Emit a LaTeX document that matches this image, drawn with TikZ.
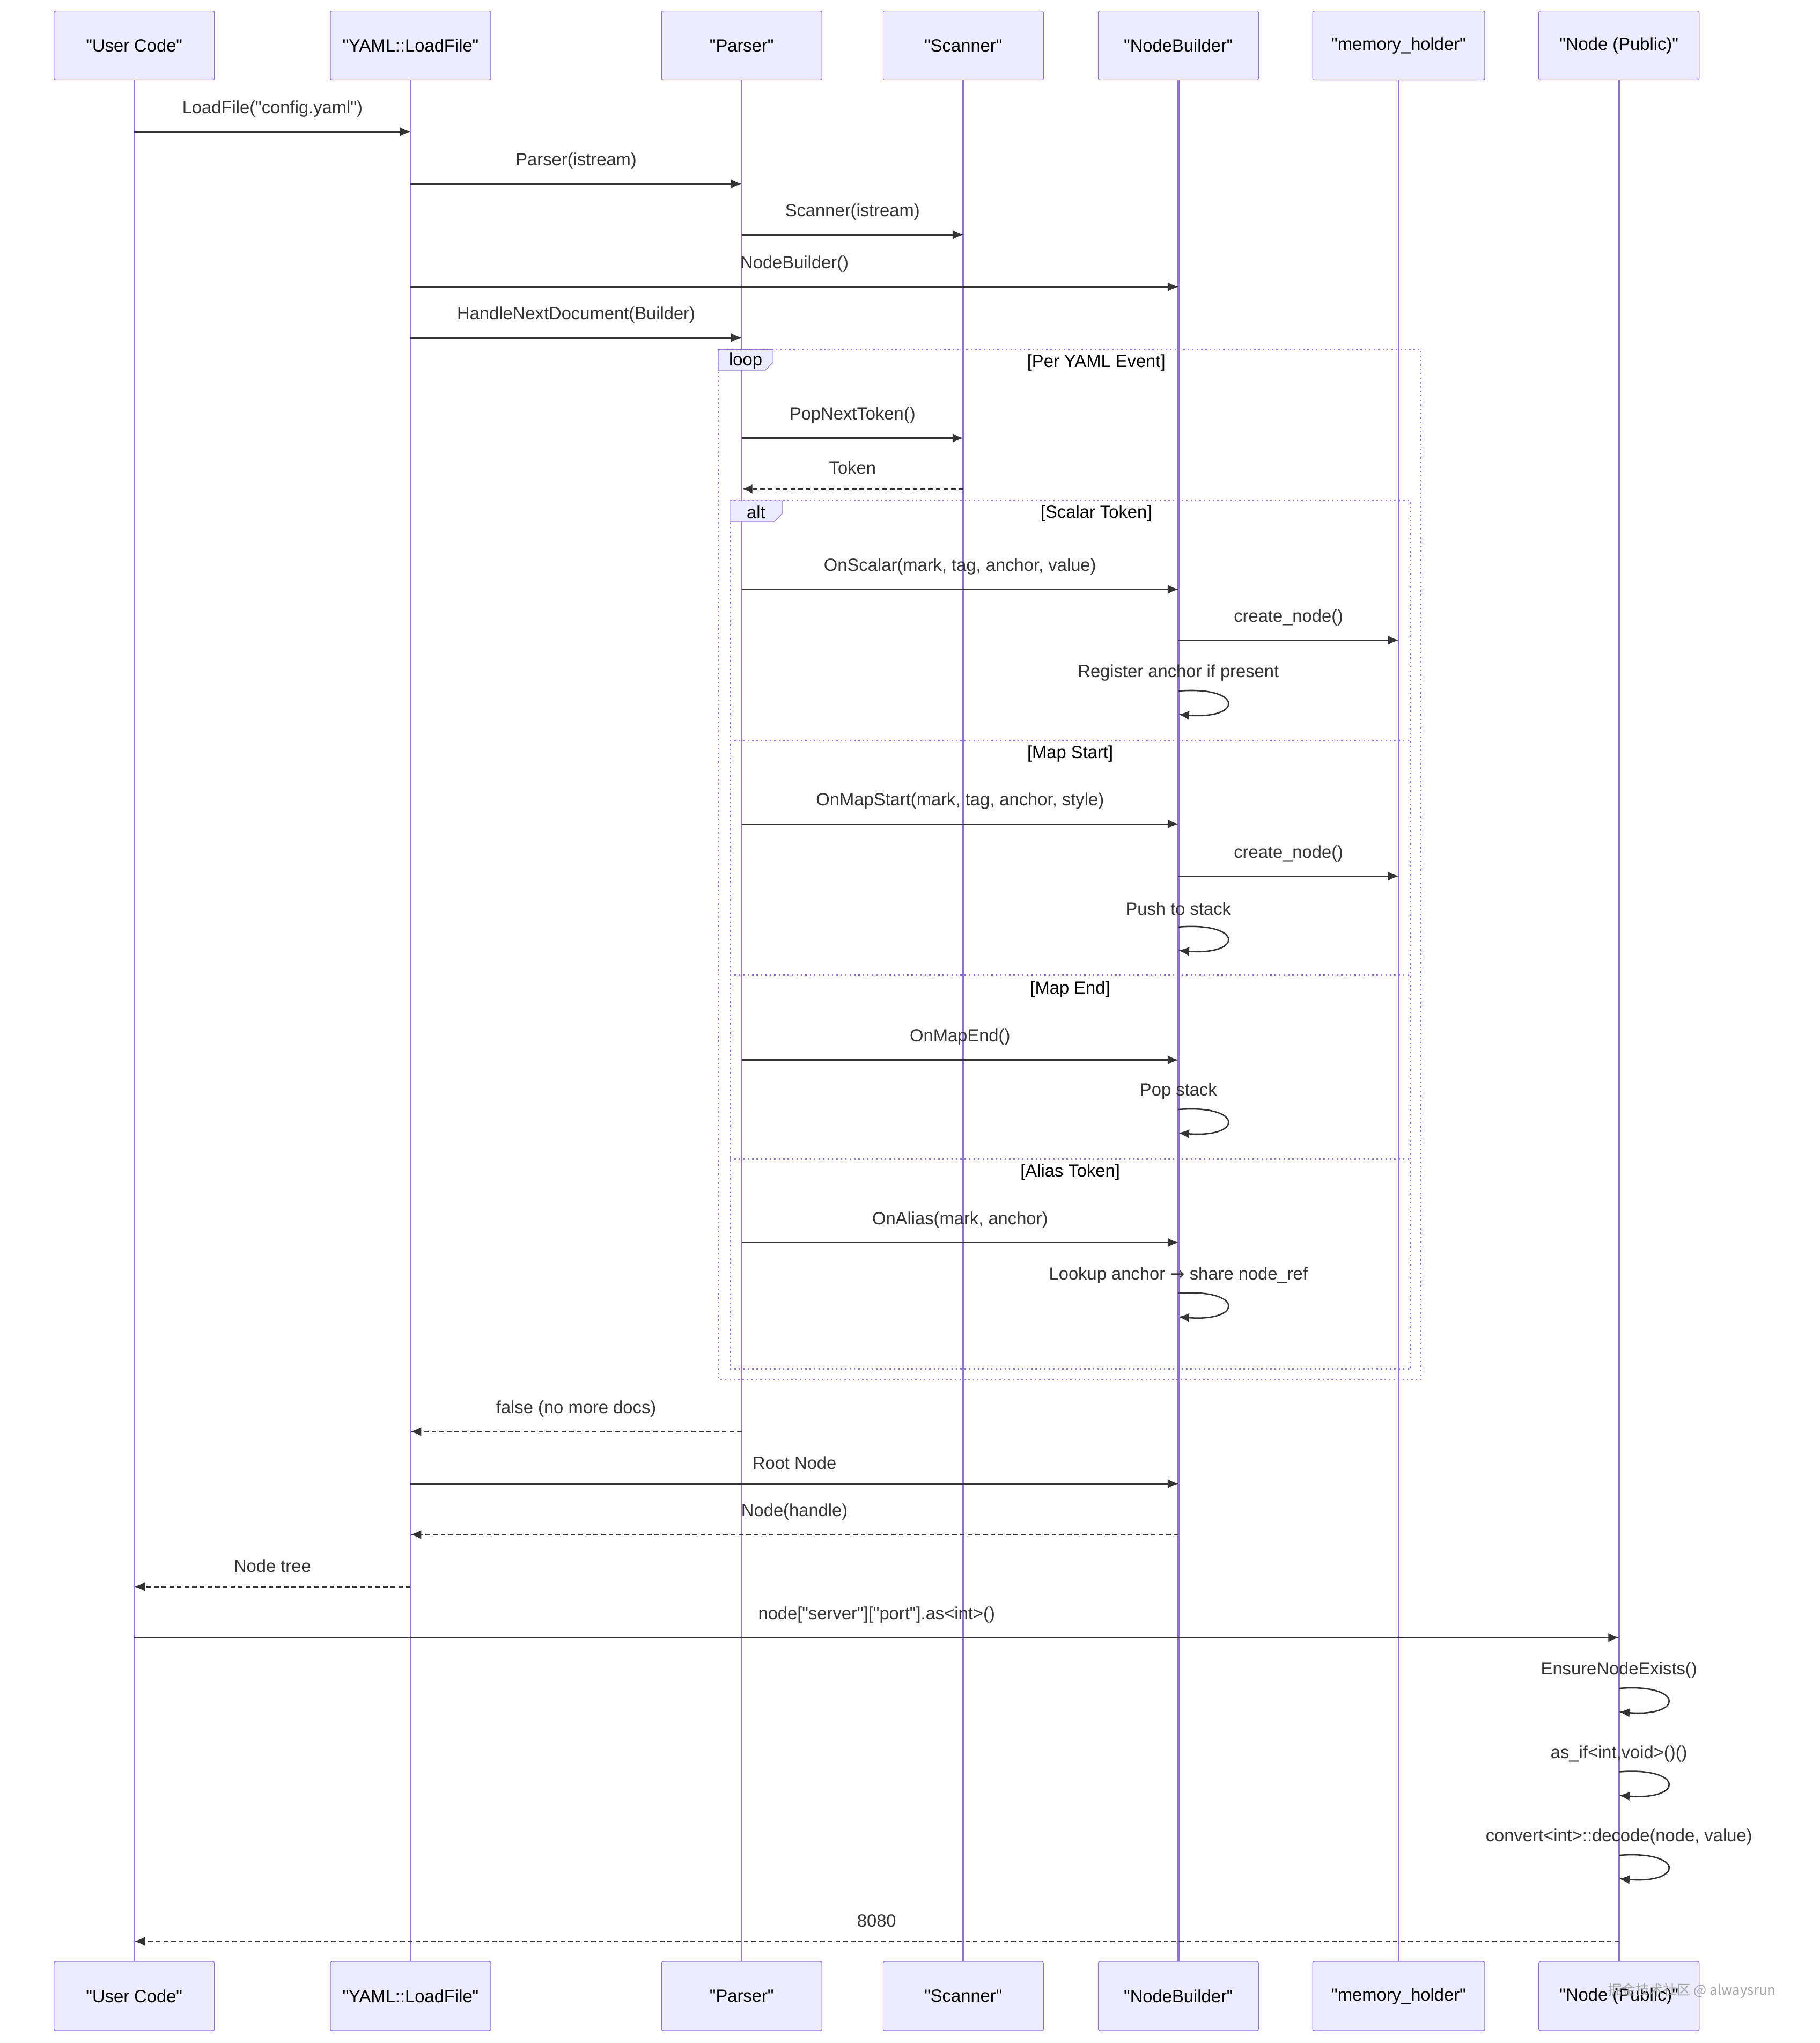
\documentclass[tikz,border=0pt]{standalone}
\usepackage{fontspec}
\setmainfont[Ligatures=TeXOff]{Liberation Sans}
\newfontfamily\cjk{Noto Sans CJK SC}
\usetikzlibrary{arrows.meta, positioning}
\definecolor{actfill}{HTML}{ECECFF}
\definecolor{actline}{HTML}{9370DB}
\definecolor{msgline}{HTML}{333333}
\newlength{\pxu}
\setlength{\pxu}{0.03cm}
\newcommand{\dq}{\symbol{34}}

\tikzset{
    actor/.style={draw=actline, fill=actfill, rounded corners=1pt, minimum width=123\pxu, minimum height=53\pxu, font=\fontsize{11.5}{14}\selectfont, inner sep=0pt},
    life/.style={draw=actline, line width=1.2pt},
    msg/.style={draw=msgline, line width=0.9pt, -{Latex[length=7pt,width=6pt]}},
    reply/.style={msg, dash pattern=on 3pt off 2pt},
    txt/.style={font=\fontsize{11.5}{14}\selectfont, text=msgline},
    frame/.style={draw=actline, line width=0.9pt, dotted},
}
% message: from, to, y, label
\newcommand{\msgto}[5][msg]{%
    \draw[#1] (#2 |- 0,#4) -- (#3 |- 0,#4);
    \path (#2 |- 0,#4) -- node[txt, above=7\pxu] {#5} (#3 |- 0,#4);}
\newcommand{\selfmsg}[3]{%
    \node[txt] at (#1 |- 0,#2) {#3};
    \draw[msg] (#1 |- 0,#2+14) .. controls +(50,-4) and +(50,4) .. (#1 |- 0,#2+32);}

\begin{document}
\begin{tikzpicture}[x=0.03cm, y=-0.03cm]
    \useasboundingbox (0,0) rectangle (1396,1567);

    % Acteurs
    \foreach \n/\x/\t in {uc/103/User Code, lf/315/YAML::LoadFile, pa/569/Parser, sc/739/Scanner, nb/904/NodeBuilder, mh/1073/memory\_holder, np/1242/Node (Public)} {
        \draw[life] (\x,61) -- (\x,1505);
        \node[actor] (\n) at (\x,35) {\dq\t\dq};
        \node[actor] (\n b) at (\x,1531) {\dq\t\dq};
    }
    \node[actor, minimum width=132\pxu] at (mh) {\dq memory\_holder\dq};
    \node[actor, minimum width=132\pxu] at (mhb) {\dq memory\_holder\dq};

    % Cadres
    \draw[frame] (551,268) rectangle (1090,1058);
    \draw[frame] (560,384) rectangle (1082,1050);
    \foreach \y in {568,748,889} \draw[frame] (560,\y) -- (1082,\y);
    \draw[actline, fill=actfill] (551,268) -- (593,268) -- (593,278) -- (587,284) -- (551,284) -- cycle;
    \node[txt, text=black] at (572,277) {loop};
    \draw[actline, fill=actfill] (560,384) -- (600,384) -- (600,394) -- (594,400) -- (560,400) -- cycle;
    \node[txt, text=black] at (580,393) {alt};
    \node[txt, text=black] at (841,278) {[Per YAML Event]};
    \node[txt, text=black] at (841,394) {[Scalar Token]};
    \node[txt, text=black] at (821,578) {[Map Start]};
    \node[txt, text=black] at (821,759) {[Map End]};
    \node[txt, text=black] at (821,899) {[Alias Token]};

    % Messages
    \msgto{uc}{lf}{101}{LoadFile(\dq config.yaml\dq)}
    \msgto{lf}{pa}{141}{Parser(istream)}
    \msgto{pa}{sc}{180}{Scanner(istream)}
    \msgto{lf}{nb}{220}{NodeBuilder()}
    \msgto{lf}{pa}{259}{HandleNextDocument(Builder)}
    \msgto{pa}{sc}{336}{PopNextToken()}
    \msgto[reply]{sc}{pa}{375}{Token}
    \msgto{pa}{nb}{452}{OnScalar(mark, tag, anchor, value)}
    \msgto{nb}{mh}{491}{create\_node()}
    \selfmsg{nb}{516}{Register anchor if present}
    \msgto{pa}{nb}{632}{OnMapStart(mark, tag, anchor, style)}
    \msgto{nb}{mh}{672}{create\_node()}
    \selfmsg{nb}{697}{Push to stack}
    \msgto{pa}{nb}{813}{OnMapEnd()}
    \selfmsg{nb}{837}{Pop stack}
    \msgto{pa}{nb}{953}{OnAlias(mark, anchor)}
    \selfmsg{nb}{978}{Lookup anchor {\fontspec{DejaVu Sans}→} share node\_ref}
    \msgto[reply]{pa}{lf}{1098}{false (no more docs)}
    \msgto{lf}{nb}{1138}{Root Node}
    \msgto[reply]{nb}{lf}{1177}{Node(handle)}
    \msgto[reply]{lf}{uc}{1217}{Node tree}
    \msgto{uc}{np}{1256}{node[\dq server\dq][\dq port\dq].as<int>()}
    \selfmsg{np}{1281}{EnsureNodeExists()}
    \selfmsg{np}{1345}{as\_if<int,void>()()}
    \selfmsg{np}{1409}{convert<int>::decode(node, value)}
    \msgto[reply]{np}{uc}{1489}{8080}

    \node[font=\cjk\fontsize{9}{11}\selectfont, text=gray!70] at (1298,1527) {掘金技术社区 @ alwaysrun};
\end{tikzpicture}
\end{document}
